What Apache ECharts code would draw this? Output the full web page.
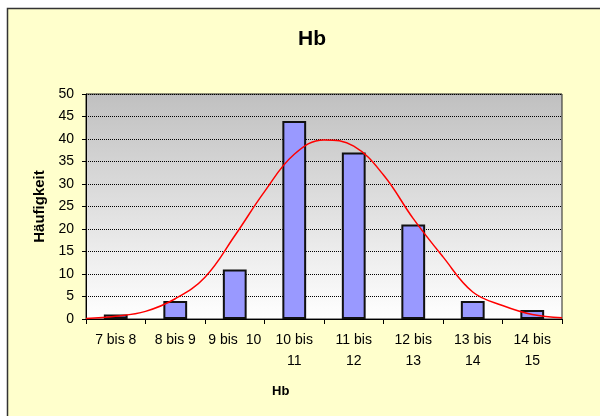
<!DOCTYPE html>
<html>
<head>
<meta charset="utf-8">
<script src="https://cdn.jsdelivr.net/npm/echarts@6/dist/echarts.min.js"></script>
<style>
  html, body { margin: 0; padding: 0; background: #fff; }
  #chart { width: 600px; height: 416px; }
</style>
</head>
<body>
<div id="chart"></div>
<script>
// Klassen (Hb) und Häufigkeiten
const categories = ['7 bis 8', '8 bis 9', '9 bis  10', '10 bis\n11', '11 bis\n12', '12 bis\n13', '13 bis\n14', '14 bis\n15'];
const counts = [1, 4, 11, 44, 37, 21, 4, 2];

const curveX = [7, 7.5, 8, 8.5, 9, 9.5, 10, 10.5, 11, 11.5, 12, 12.5, 13, 13.5, 14, 14.5, 15];
const curveY = [0.1, 0.6, 1.7, 4.5, 9.3, 18.5, 28.3, 36.6, 39.8, 38.4, 32.0, 22.3, 13.8, 6.0, 3.0, 1.0, 0.3];

const yTicks = { min: 0, max: 50, step: 5 };

const chart = echarts.init(document.getElementById('chart'));

const option = {
  backgroundColor: '#ffffff',
  animation: false,
  textStyle: { fontFamily: 'Liberation Sans, Arial, sans-serif' },
  title: {
    text: 'Hb',
    left: 293,
    top: 24,
    textStyle: { fontSize: 21, fontWeight: 'bold', color: '#000' }
  },
  graphic: [
    {
      type: 'rect',
      z: -10,
      silent: true,
      shape: { x: 7.5, y: 8.5, width: 640, height: 440 },
      style: { fill: '#FFFFCC', stroke: '#333', lineWidth: 1.5 }
    },
    {
      type: 'text',
      left: 272,
      top: 385,
      style: { text: 'Hb', fontSize: 13, fontWeight: 'bold', fill: '#000', fontFamily: 'Liberation Sans, Arial, sans-serif' }
    }
  ],
  grid: {
    left: 86,
    right: 38,
    top: 94,
    bottom: 97,
    show: true,
    borderColor: '#222',
    borderWidth: 1,
    backgroundColor: new echarts.graphic.LinearGradient(0, 0, 0, 1, [
      { offset: 0, color: '#C0C0C0' },
      { offset: 1, color: '#FFFFFF' }
    ])
  },
  xAxis: [
    {
      type: 'category',
      data: categories,
      axisLine: { lineStyle: { color: '#000', width: 1 } },
      axisTick: { show: true, length: 5, inside: false, lineStyle: { color: '#000' } },
      axisLabel: { color: '#000', fontSize: 14, margin: 11, lineHeight: 21, interval: 0 },
      splitLine: { show: false }
    },
    {
      type: 'value',
      min: 7,
      max: 15,
      show: false,
      splitLine: { show: false }
    }
  ],
  yAxis: {
    type: 'value',
    min: yTicks.min,
    max: yTicks.max,
    interval: yTicks.step,
    name: 'Häufigkeit',
    nameLocation: 'middle',
    nameRotate: 90,
    nameGap: 39,
    nameTextStyle: { fontSize: 15, fontWeight: 'bold', color: '#000' },
    axisLine: { show: true, lineStyle: { color: '#000', width: 1 } },
    axisTick: { show: true, length: 4, lineStyle: { color: '#000' } },
    axisLabel: { color: '#000', fontSize: 14, margin: 12 },
    splitLine: { show: true, lineStyle: { color: '#000', type: 'dotted', width: 1 } }
  },
  series: [
    {
      name: 'Hb',
      type: 'bar',
      xAxisIndex: 0,
      data: counts,
      barWidth: '40%',
      itemStyle: { color: '#9999FF', borderColor: '#111', borderWidth: 2 }
    },
    {
      name: 'Normalverteilung',
      type: 'line',
      xAxisIndex: 1,
      data: curveX.map((x, i) => [x, curveY[i]]),
      smooth: 0.4,
      symbol: 'none',
      lineStyle: { color: '#FF0000', width: 1.5 },
      z: 5
    }
  ]
};

chart.setOption(option);
</script>
</body>
</html>
